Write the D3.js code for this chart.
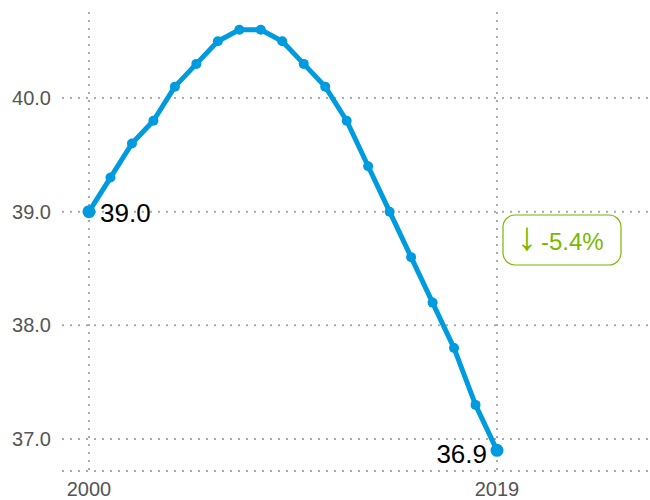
<!DOCTYPE html>
<html>
<head>
<meta charset="utf-8">
<script src="https://cdn.jsdelivr.net/npm/d3@7"></script>
<style>
  body { margin: 0; background: #fff; }
  svg { display: block; font-family: "Liberation Sans", Arial, sans-serif; }
</style>
</head>
<body>
<div id="chart"></div>
<script>
// data
const years = d3.range(2000, 2020);
const values = [39.0, 39.3, 39.6, 39.8, 40.1, 40.3, 40.5, 40.6, 40.6, 40.5,
                40.3, 40.1, 39.8, 39.4, 39.0, 38.6, 38.2, 37.8, 37.3, 36.9];
const yTicks = [37.0, 38.0, 39.0, 40.0];
const xTicks = [2000, 2019];
const changeArrow = "↓";
const changeLabel = "-5.4%";

const width = 650, height = 500;
const lineColor = "#009bde";
const gridColor = "#aaaaaa";
const green = "#7ab800";

const data = years.map((y, i) => ({ year: y, value: values[i] }));

const x = d3.scaleLinear().domain([2000, 2019]).range([89, 497]);
const y = d3.scaleLinear().domain([37, 40]).range([439, 98]);

const svg = d3.select("#chart").append("svg")
  .attr("width", width).attr("height", height);

const bottomY = 471;

// horizontal grid
svg.append("g").selectAll("line")
  .data(yTicks).enter().append("line")
  .attr("x1", 62).attr("x2", width)
  .attr("y1", d => y(d)).attr("y2", d => y(d))
  .attr("stroke", gridColor).attr("stroke-width", 2)
  .attr("stroke-dasharray", "2,6");

// baseline
svg.append("line")
  .attr("x1", 62).attr("x2", width)
  .attr("y1", bottomY).attr("y2", bottomY)
  .attr("stroke", gridColor).attr("stroke-width", 2)
  .attr("stroke-dasharray", "2,6");

// vertical grid
svg.append("g").selectAll("line")
  .data(xTicks).enter().append("line")
  .attr("x1", d => x(d)).attr("x2", d => x(d))
  .attr("y1", 12).attr("y2", bottomY)
  .attr("stroke", gridColor).attr("stroke-width", 2)
  .attr("stroke-dasharray", "2,6");

// y labels
svg.append("g").selectAll("text")
  .data(yTicks).enter().append("text")
  .attr("x", 51).attr("y", d => y(d))
  .attr("dy", "0.35em")
  .attr("text-anchor", "end")
  .attr("font-size", 20).attr("fill", "#555")
  .text(d => d.toFixed(1));

// x labels
svg.append("g").selectAll("text")
  .data(xTicks).enter().append("text")
  .attr("x", d => x(d)).attr("y", 496)
  .attr("text-anchor", "middle")
  .attr("font-size", 20).attr("fill", "#555")
  .text(d => d);

// line
const line = d3.line().x(d => x(d.year)).y(d => y(d.value));
svg.append("path").datum(data)
  .attr("d", line)
  .attr("fill", "none")
  .attr("stroke", lineColor).attr("stroke-width", 5)
  .attr("stroke-linejoin", "round");

svg.append("g").selectAll("circle")
  .data(data).enter().append("circle")
  .attr("cx", d => x(d.year)).attr("cy", d => y(d.value))
  .attr("r", (d, i) => (i === 0 || i === data.length - 1) ? 6.5 : 5)
  .attr("fill", lineColor);

// end labels
const first = data[0], last = data[data.length - 1];
svg.append("text")
  .attr("x", x(first.year) + 11).attr("y", y(first.value) + 1)
  .attr("dy", "0.35em")
  .attr("font-size", 26).attr("fill", "#000")
  .text(first.value.toFixed(1));
svg.append("text")
  .attr("x", x(last.year) - 10).attr("y", y(last.value) + 4)
  .attr("dy", "0.35em")
  .attr("text-anchor", "end")
  .attr("font-size", 26).attr("fill", "#000")
  .text(last.value.toFixed(1));

// change badge
const badge = svg.append("g").attr("transform", "translate(503,215)");
badge.append("rect")
  .attr("width", 118).attr("height", 50)
  .attr("rx", 12).attr("ry", 12)
  .attr("fill", "#fff").attr("stroke", green).attr("stroke-width", 1.2);
const bt = badge.append("text")
  .attr("x", 14).attr("y", 35)
  .attr("fill", green);
bt.append("tspan")
  .attr("font-size", 40)
  .text(changeArrow);
bt.append("tspan")
  .attr("dx", 4)
  .attr("font-size", 24)
  .text(changeLabel);
</script>
</body>
</html>
